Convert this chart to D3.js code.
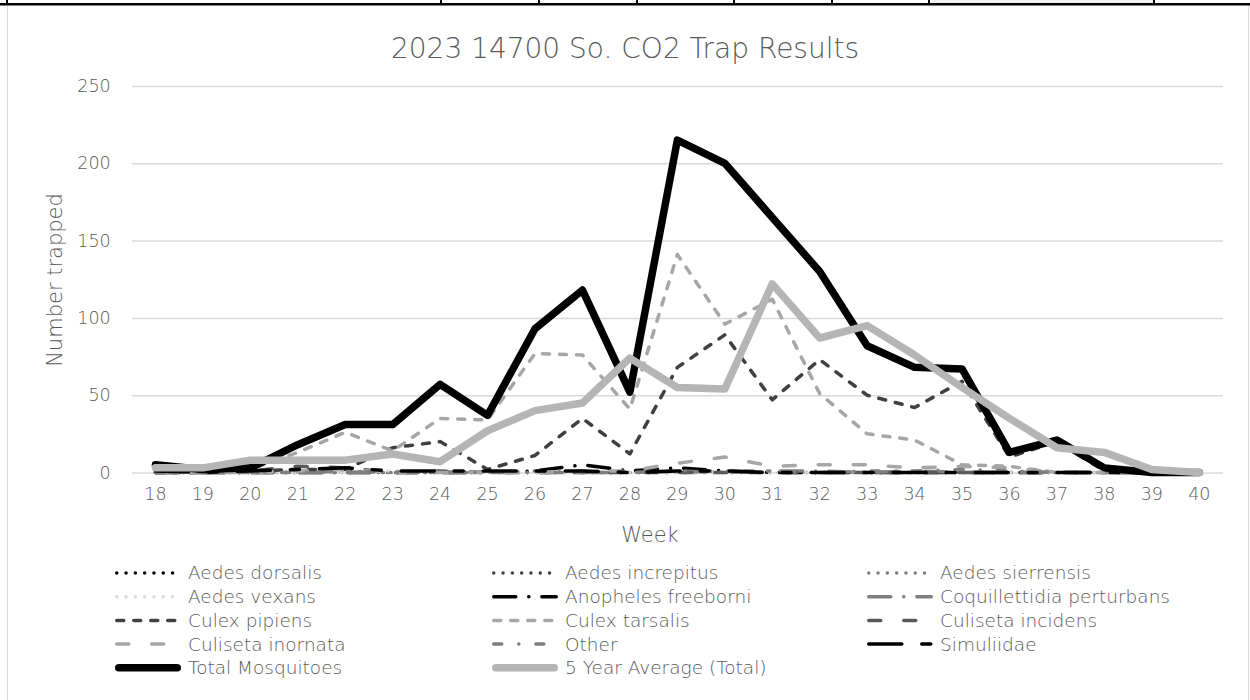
<!DOCTYPE html>
<html>
<head>
<meta charset="utf-8">
<script src="https://cdn.jsdelivr.net/npm/d3@7"></script>
<style>
  body { margin: 0; background: #fff; }
  text { font-family: "DejaVu Sans", sans-serif; font-weight: 200; fill: #595959; }
</style>
</head>
<body>
<script>
// week numbers (category axis)
const weeks = [18, 19, 20, 21, 22, 23, 24, 25, 26, 27, 28, 29, 30, 31, 32, 33, 34, 35, 36, 37, 38, 39, 40];
const yTicks = [0, 50, 100, 150, 200, 250];

// counts per week
const aedesDorsalis    = [0, 0, 0, 0, 0, 0, 0, 0, 0, 0, 0, 0, 0, 0, 0, 0, 0, 0, 0, 0, 0, 0, 0];
const aedesIncrepitus  = [0, 0, 0, 0, 1, 0, 0, 0, 0, 0, 0, 0, 0, 0, 0, 0, 0, 0, 0, 0, 0, 0, 0];
const aedesSierrensis  = [0, 0, 0, 0, 0, 0, 0, 0, 0, 0, 0, 0, 0, 0, 0, 0, 0, 0, 0, 0, 0, 0, 0];
const aedesVexans      = [0, 0, 0, 0, 0, 1, 1, 0, 0, 0, 0, 0, 0, 0, 0, 0, 0, 0, 0, 0, 0, 0, 0];
const anophelesFreeborni = [0, 0, 0, 0, 0, 0, 0, 0, 1, 5, 1, 3, 1, 0, 0, 0, 0, 0, 0, 0, 0, 0, 0];
const coquillettidia   = [0, 0, 0, 0, 0, 0, 0, 0, 0, 0, 0, 1, 0, 1, 1, 0, 1, 0, 0, 0, 0, 0, 0];
const culexPipiens     = [0, 0, 1, 2, 2, 16, 20, 2, 11, 35, 12, 68, 89, 47, 73, 50, 42, 59, 10, 20, 1, 0, 0];
const culexTarsalis    = [0, 0, 2, 13, 26, 14, 35, 34, 77, 76, 41, 141, 96, 112, 51, 25, 21, 5, 4, 0, 0, 0, 0];
const culisetaIncidens = [0, 0, 1, 4, 3, 0, 1, 0, 0, 0, 0, 0, 0, 0, 0, 0, 0, 0, 0, 0, 0, 0, 0];
const culisetaInornata = [0, 0, 0, 1, 2, 0, 0, 0, 0, 1, 1, 6, 10, 4, 5, 5, 3, 4, 3, 0, 0, 0, 0];
const other            = [0, 0, 0, 0, 1, 0, 0, 0, 1, 0, 0, 1, 1, 1, 0, 1, 1, 2, 1, 0, 0, 0, 0];
const simuliidae       = [1, 0, 1, 2, 3, 1, 1, 1, 1, 1, 0, 1, 1, 0, 0, 0, 0, 0, 0, 0, 0, 0, 0];
const totalMosquitoes  = [5, 2, 3, 18, 31, 31, 57, 37, 93, 118, 52, 215, 200, 165, 130, 82, 68, 67, 13, 21, 3, 0, 0];
const fiveYearAverage  = [3, 3, 8, 8, 8, 12, 7, 27, 40, 45, 74, 55, 54, 122, 87, 95, 76, 55, 35, 16, 13, 2, 0];

const series = [
  { name: "Aedes dorsalis", values: aedesDorsalis, color: "#000000", w: 3.5, dash: "0,9.3" },
  { name: "Aedes increpitus", values: aedesIncrepitus, color: "#404040", w: 3.5, dash: "0,9.3" },
  { name: "Aedes sierrensis", values: aedesSierrensis, color: "#7f7f7f", w: 3.5, dash: "0,9.3" },
  { name: "Aedes vexans", values: aedesVexans, color: "#d9d9d9", w: 3.5, dash: "0,9.3" },
  { name: "Anopheles freeborni", values: anophelesFreeborni, color: "#000000", w: 3.5, dash: "22,13,0.1,13" },
  { name: "Coquillettidia perturbans", values: coquillettidia, color: "#7f7f7f", w: 3.5, dash: "22,13,0.1,13" },
  { name: "Culex pipiens", values: culexPipiens, color: "#404040", w: 3.5, dash: "7,10" },
  { name: "Culex tarsalis", values: culexTarsalis, color: "#a6a6a6", w: 3.5, dash: "7,10" },
  { name: "Culiseta incidens", values: culisetaIncidens, color: "#595959", w: 3.5, dash: "12,23" },
  { name: "Culiseta inornata", values: culisetaInornata, color: "#a6a6a6", w: 3.5, dash: "12,23" },
  { name: "Other", values: other, color: "#7f7f7f", w: 3.5, dash: "8,17,0.1,17" },
  { name: "Simuliidae", values: simuliidae, color: "#000000", w: 3.5, dash: "33,20,9,20" },
  { name: "Total Mosquitoes", values: totalMosquitoes, color: "#000000", w: 7.5, dash: null },
  { name: "5 Year Average (Total)", values: fiveYearAverage, color: "#b5b5b5", w: 7.5, dash: null }
];

const W = 1250, H = 700;
const svg = d3.select("body").append("svg")
    .attr("width", W)
    .attr("height", H);

// spreadsheet cell borders above the chart
svg.append("rect").attr("x", 931).attr("y", 0).attr("width", 223).attr("height", 3.5).attr("fill", "#f2f2f2");
svg.append("rect").attr("x", 0).attr("y", 3).attr("width", W).attr("height", 2.5).attr("fill", "#000");
[7, 441, 539, 637, 734, 832, 929, 1154].forEach(function (cx) {
  svg.append("rect").attr("x", cx - 1).attr("y", 0).attr("width", 2).attr("height", 4).attr("fill", "#000");
});
// chart frame
svg.append("line").attr("x1", 7.5).attr("x2", 7.5).attr("y1", 6).attr("y2", H)
    .attr("stroke", "#d9d9d9").attr("stroke-width", 1);
svg.append("line").attr("x1", 1248.5).attr("x2", 1248.5).attr("y1", 6).attr("y2", H)
    .attr("stroke", "#d9d9d9").attr("stroke-width", 1);

const plot = { left: 131.7, right: 1223, top: 86, bottom: 472.5 };

let x = d3.scaleBand().domain(weeks).range([plot.left, plot.right]);
let y = d3.scaleLinear().domain([0, 250]).range([plot.bottom, plot.top]);
const cx = function (w) { return x(w) + x.bandwidth() / 2; };

// gridlines + y labels
let yAxis = svg.append("g")
    .attr("transform", "translate(" + plot.left + ",0)")
    .call(d3.axisLeft(y).tickValues(yTicks).tickSize(-(plot.right - plot.left)).tickPadding(21));
yAxis.select(".domain").remove();
yAxis.selectAll("line").attr("stroke", "#d9d9d9").attr("stroke-width", 1.5);
yAxis.selectAll("text").style("font-size", "17.5px").style("font-family", null).attr("fill", null);

// x labels
let xAxis = svg.append("g")
    .attr("transform", "translate(0," + plot.bottom + ")")
    .call(d3.axisBottom(x).tickSize(0).tickPadding(15));
xAxis.select(".domain").remove();
xAxis.selectAll("text").style("font-size", "17.5px").style("font-family", null).attr("fill", null);

// series lines
let line = d3.line()
    .x(function (d, i) { return cx(weeks[i]); })
    .y(function (d) { return y(d); });

svg.append("g").selectAll("path")
    .data(series)
    .enter().append("path")
    .attr("d", function (s) { return line(s.values); })
    .attr("fill", "none")
    .attr("stroke", function (s) { return s.color; })
    .attr("stroke-width", function (s) { return s.w; })
    .attr("stroke-dasharray", function (s) { return s.dash; })
    .attr("stroke-linecap", "round")
    .attr("stroke-linejoin", "round");

// titles
svg.append("text")
    .attr("x", 625).attr("y", 58)
    .attr("text-anchor", "middle")
    .style("font-size", "28px")
    .text("2023 14700 So. CO2 Trap Results");

svg.append("text")
    .attr("x", 650).attr("y", 542)
    .attr("text-anchor", "middle")
    .style("font-size", "21px")
    .text("Week");

svg.append("text")
    .attr("transform", "translate(62,280) rotate(-90)")
    .attr("text-anchor", "middle")
    .style("font-size", "21px")
    .text("Number trapped");

// legend, 3 columns
const legCols = [115, 492, 867];
let legend = svg.append("g");
let item = legend.selectAll("g")
    .data(series)
    .enter().append("g")
    .attr("transform", function (s, i) {
      return "translate(" + legCols[i % 3] + "," + (573 + Math.floor(i / 3) * 23.7) + ")";
    });
item.append("line")
    .attr("x1", function (s) { return s.w / 2; })
    .attr("x2", function (s) { return 66 - s.w / 2; })
    .attr("stroke", function (s) { return s.color; })
    .attr("stroke-width", function (s) { return s.w; })
    .attr("stroke-dasharray", function (s) { return s.dash; })
    .attr("stroke-linecap", "round");
item.append("text")
    .attr("x", 73)
    .attr("dy", "0.35em")
    .style("font-size", "18.5px")
    .text(function (s) { return s.name; });
</script>
</body>
</html>
